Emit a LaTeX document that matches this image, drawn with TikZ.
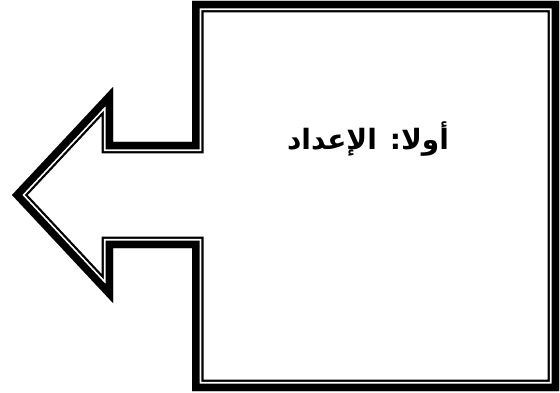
\documentclass[tikz,border=0pt]{standalone}
\usepackage{fontspec}
\newfontfamily\arabicfont[Script=Arabic]{DejaVu Sans}
\TeXXeTstate=1
\usetikzlibrary{positioning}

\begin{document}
\begin{tikzpicture}[x=1pt, y=-1pt, line join=miter]

\useasboundingbox (0,0) rectangle (560,393);

% ================= CALLOUT OUTLINE =================
\def\calloutpath{(192,1) -- (559,1) -- (559,391) -- (192,391) -- (192,248)
  -- (113,248) -- (113,303) -- (12,195) -- (113,87) -- (113,142)
  -- (192,142) -- cycle}

\begin{scope}
\clip \calloutpath;
% thick outer line, white gap, thin inner line
\draw[black, line width=23pt] \calloutpath;
\draw[white, line width=18.5pt] \calloutpath;
\draw[black, line width=15pt] \calloutpath;
\end{scope}

% ================= TITLE =================
\node[font=\arabicfont\bfseries\fontsize{28}{32}\selectfont, inner sep=0pt]
  (title) at (368,139) {\beginR أولا: الإعداد\endR};

\end{tikzpicture}
\end{document}
